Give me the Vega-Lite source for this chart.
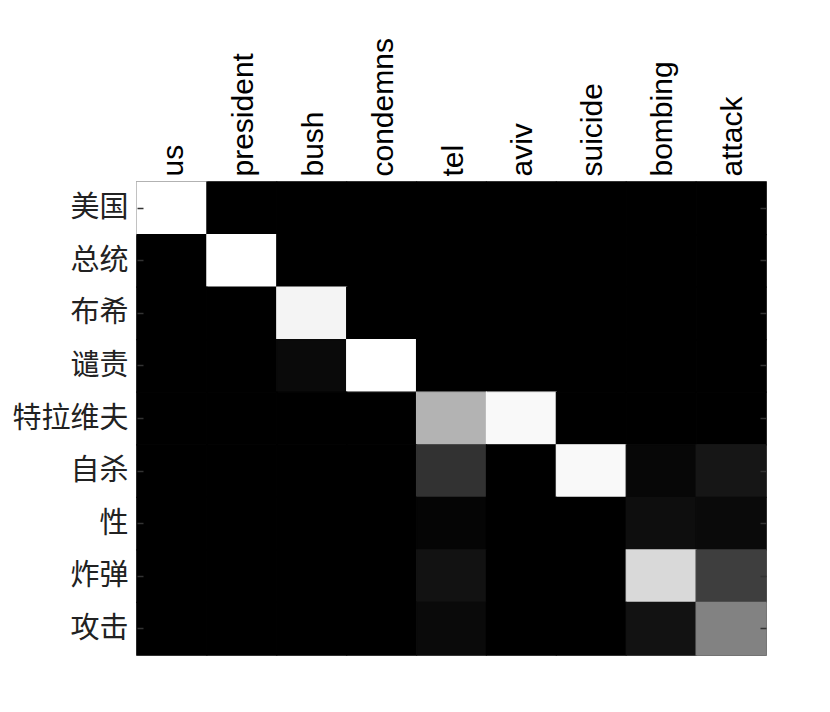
{
  "$schema": "https://vega.github.io/schema/vega-lite/v6.json",
  "width": 629,
  "height": 473,
  "autosize": {"type": "none"},
  "padding": {"left": 137, "top": 182, "right": 64, "bottom": 57},
  "background": "white",
  "config": {
    "view": {"stroke": "#333333", "strokeWidth": 1.5},
    "axis": {"domain": false, "grid": false}
  },
  "data": {"values": [
    {"r":"美国","c":"us","v":255},{"r":"美国","c":"president","v":0},{"r":"美国","c":"bush","v":0},{"r":"美国","c":"condemns","v":0},{"r":"美国","c":"tel","v":0},{"r":"美国","c":"aviv","v":0},{"r":"美国","c":"suicide","v":0},{"r":"美国","c":"bombing","v":0},{"r":"美国","c":"attack","v":0},
    {"r":"总统","c":"us","v":0},{"r":"总统","c":"president","v":255},{"r":"总统","c":"bush","v":0},{"r":"总统","c":"condemns","v":0},{"r":"总统","c":"tel","v":0},{"r":"总统","c":"aviv","v":0},{"r":"总统","c":"suicide","v":0},{"r":"总统","c":"bombing","v":0},{"r":"总统","c":"attack","v":0},
    {"r":"布希","c":"us","v":0},{"r":"布希","c":"president","v":0},{"r":"布希","c":"bush","v":244},{"r":"布希","c":"condemns","v":0},{"r":"布希","c":"tel","v":0},{"r":"布希","c":"aviv","v":0},{"r":"布希","c":"suicide","v":0},{"r":"布希","c":"bombing","v":0},{"r":"布希","c":"attack","v":0},
    {"r":"谴责","c":"us","v":0},{"r":"谴责","c":"president","v":0},{"r":"谴责","c":"bush","v":10},{"r":"谴责","c":"condemns","v":255},{"r":"谴责","c":"tel","v":0},{"r":"谴责","c":"aviv","v":0},{"r":"谴责","c":"suicide","v":0},{"r":"谴责","c":"bombing","v":0},{"r":"谴责","c":"attack","v":0},
    {"r":"特拉维夫","c":"us","v":0},{"r":"特拉维夫","c":"president","v":0},{"r":"特拉维夫","c":"bush","v":0},{"r":"特拉维夫","c":"condemns","v":0},{"r":"特拉维夫","c":"tel","v":179},{"r":"特拉维夫","c":"aviv","v":249},{"r":"特拉维夫","c":"suicide","v":0},{"r":"特拉维夫","c":"bombing","v":0},{"r":"特拉维夫","c":"attack","v":0},
    {"r":"自杀","c":"us","v":0},{"r":"自杀","c":"president","v":0},{"r":"自杀","c":"bush","v":0},{"r":"自杀","c":"condemns","v":0},{"r":"自杀","c":"tel","v":50},{"r":"自杀","c":"aviv","v":0},{"r":"自杀","c":"suicide","v":249},{"r":"自杀","c":"bombing","v":7},{"r":"自杀","c":"attack","v":22},
    {"r":"性","c":"us","v":0},{"r":"性","c":"president","v":0},{"r":"性","c":"bush","v":0},{"r":"性","c":"condemns","v":0},{"r":"性","c":"tel","v":5},{"r":"性","c":"aviv","v":0},{"r":"性","c":"suicide","v":0},{"r":"性","c":"bombing","v":14},{"r":"性","c":"attack","v":10},
    {"r":"炸弹","c":"us","v":0},{"r":"炸弹","c":"president","v":0},{"r":"炸弹","c":"bush","v":0},{"r":"炸弹","c":"condemns","v":0},{"r":"炸弹","c":"tel","v":18},{"r":"炸弹","c":"aviv","v":0},{"r":"炸弹","c":"suicide","v":0},{"r":"炸弹","c":"bombing","v":217},{"r":"炸弹","c":"attack","v":62},
    {"r":"攻击","c":"us","v":0},{"r":"攻击","c":"president","v":0},{"r":"攻击","c":"bush","v":0},{"r":"攻击","c":"condemns","v":0},{"r":"攻击","c":"tel","v":10},{"r":"攻击","c":"aviv","v":0},{"r":"攻击","c":"suicide","v":0},{"r":"攻击","c":"bombing","v":18},{"r":"攻击","c":"attack","v":130}
  ]},
  "encoding": {
    "x": {
      "field": "c", "type": "nominal", "sort": null,
      "scale": {"paddingInner": 0, "paddingOuter": 0},
      "axis": {"orient": "top", "title": null, "labelAngle": -90, "labelAlign": "left", "labelBaseline": "middle",
               "labelFont": "Liberation Sans", "labelFontSize": 30, "labelColor": "#000000", "ticks": false, "labelPadding": 6, "labelOffset": 2}
    },
    "y": {
      "field": "r", "type": "nominal", "sort": null,
      "scale": {"paddingInner": 0, "paddingOuter": 0}
    },
    "color": {
      "field": "v", "type": "quantitative",
      "scale": {"type": "linear", "domain": [0, 255], "range": ["#000000", "#ffffff"], "interpolate": "rgb"},
      "legend": null
    },
    "stroke": {
      "field": "v", "type": "quantitative",
      "scale": {"type": "linear", "domain": [0, 255], "range": ["#000000", "#ffffff"], "interpolate": "rgb"},
      "legend": null
    }
  },
  "layer": [
    {
      "mark": {"type": "rect", "strokeWidth": 1.2},
      "encoding": {
        "y": {
          "field": "r", "type": "nominal", "sort": null,
          "scale": {"paddingInner": 0, "paddingOuter": 0},
          "axis": {"orient": "left", "title": null, "labelFont": "Noto Sans CJK SC", "labelFontSize": 29, "labelColor": "#222222",
                   "tickSize": -6, "tickColor": "#333333", "tickWidth": 1.5, "labelPadding": 15}
        }
      }
    },
    {
      "mark": {"type": "rect", "opacity": 0},
      "encoding": {
        "y": {
          "field": "r", "type": "nominal", "sort": null,
          "scale": {"paddingInner": 0, "paddingOuter": 0},
          "axis": {"orient": "right", "title": null, "labels": false, "tickSize": -6, "tickColor": "#333333", "tickWidth": 1.5}
        }
      }
    }
  ],
  "resolve": {"axis": {"y": "independent"}}
}
